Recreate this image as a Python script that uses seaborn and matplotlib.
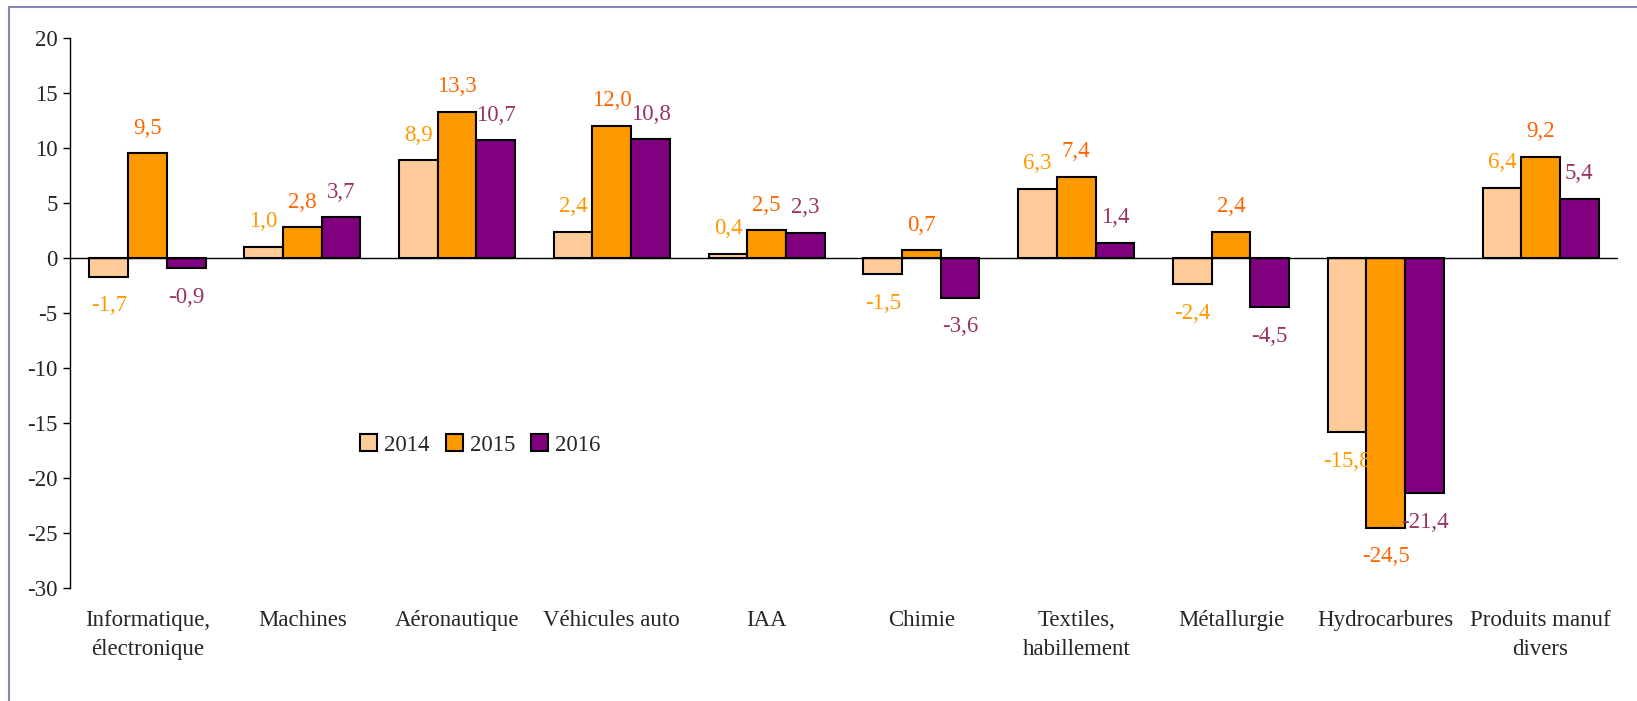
import pandas as pd
import matplotlib.pyplot as plt
import seaborn as sns
from matplotlib.lines import Line2D

# Categories and yearly values
categories = ['Informatique,\nélectronique', 'Machines', 'Aéronautique', 'Véhicules auto', 'IAA',
              'Chimie', 'Textiles,\nhabillement', 'Métallurgie', 'Hydrocarbures', 'Produits manuf\ndivers']
years = ['2014', '2015', '2016']
v2014 = [-1.7, 1.0, 8.9, 2.4, 0.4, -1.5, 6.3, -2.4, -15.8, 6.4]
v2015 = [9.5, 2.8, 13.3, 12.0, 2.5, 0.7, 7.4, 2.4, -24.5, 9.2]
v2016 = [-0.9, 3.7, 10.7, 10.8, 2.3, -3.6, 1.4, -4.5, -21.4, 5.4]
yticks = list(range(-30, 25, 5))

bar_colors = ['#FFCC99', '#FF9900', '#800080']
label_colors = ['#FF9900', '#FF6600', '#993366']

df = pd.DataFrame({'cat': categories * 3,
                   'year': [y for y in years for _ in categories],
                   'val': v2014 + v2015 + v2016})

sns.set_style('white')
plt.rcParams['font.family'] = ['Liberation Serif', 'DejaVu Serif']
plt.rcParams['axes.unicode_minus'] = False
FS = 16.5

fig = plt.figure(figsize=(16.37, 7.01), dpi=100)
ax = fig.add_axes([0.0428, 0.161, 0.9456, 0.785])

sns.barplot(data=df, x='cat', y='val', hue='year', palette=bar_colors, width=0.75, gap=0,
            saturation=1, edgecolor='black', linewidth=1.5, ax=ax, legend=True)

# value labels, french decimal comma, centred beyond bar end
for cont, vals, col in zip(ax.containers, [v2014, v2015, v2016], label_colors):
    for bar, v in zip(cont.patches, vals):
        xc = bar.get_x() + bar.get_width() / 2
        off = 18 if v >= 0 else -21
        ax.annotate(f'{v:.1f}'.replace('.', ','), (xc, v), xytext=(0, off),
                    textcoords='offset points', ha='center', va='center',
                    color=col, fontsize=FS)

ax.axhline(0, color='black', lw=1)
ax.set_ylim(-30, 20)
ax.set_yticks(yticks)
ax.set_xlim(-0.5, len(categories) - 0.5)
ax.set_xlabel('')
ax.set_ylabel('')
for s in ['top', 'right', 'bottom']:
    ax.spines[s].set_visible(False)
ax.spines['left'].set_color('black')
ax.spines['left'].set_linewidth(1)
ax.tick_params(axis='y', left=True, length=5, width=1, color='black', labelsize=FS, pad=4)
ax.tick_params(axis='x', bottom=False, labelsize=FS, pad=12)
for t in ax.get_xticklabels():
    t.set_multialignment('center')
    t.set_linespacing(1.55)

h, l = ax.get_legend_handles_labels()
ax.legend(h, l, loc='center', bbox_to_anchor=(0.265, 0.26), ncol=3, frameon=False,
          fontsize=FS, handlelength=0.75, handleheight=0.75, handletextpad=0.3, columnspacing=0.7)

# outer frame (top and left only visible in the reference)
fig.add_artist(Line2D([9 / 1637, 1], [1 - 7 / 701, 1 - 7 / 701], transform=fig.transFigure,
                      color='#8585B5', lw=1.5))
fig.add_artist(Line2D([9 / 1637, 9 / 1637], [0, 1 - 7 / 701], transform=fig.transFigure,
                      color='#8585B5', lw=1.5))

fig.savefig('out.png', dpi=100)
